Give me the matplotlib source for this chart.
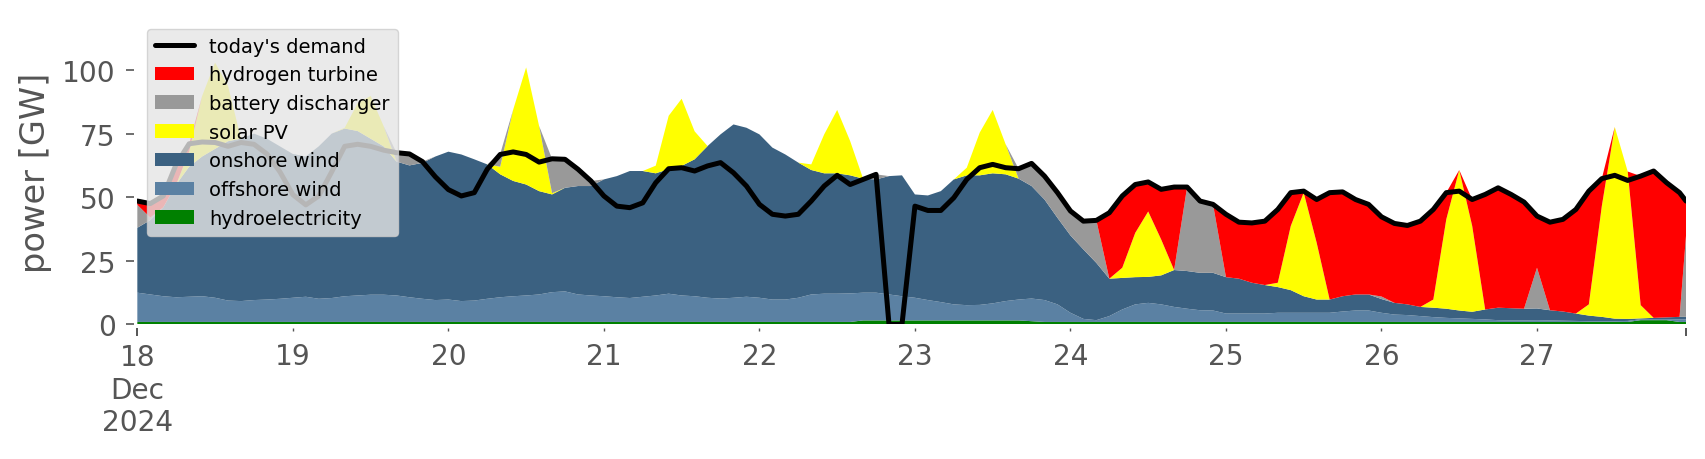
import numpy as np
import matplotlib.pyplot as plt

# -------------------------------------------------------------
#   DATA  (GW, every 2 hours from 18 Dec 00:00, last point 27 Dec 23:00)
# -------------------------------------------------------------
hours = np.r_[np.arange(0, 240, 2), 239]

day_labels = ["18\nDec\n2024", "19", "20", "21", "22", "23", "24", "25", "26", "27"]

hydro = [
    1, 1, 1, 1, 1, 1, 1, 1, 1, 1, 1, 1,                      # 18
    1, 1, 1, 1, 1, 1, 1, 1, 1, 1, 1, 1,                      # 19
    1, 1, 1, 1, 1, 1, 1, 1, 1, 1, 1, 1,                      # 20
    1, 1, 1, 1, 1, 1, 1, 1, 1, 1, 1, 1,                      # 21
    1, 1, 1, 1, 1, 1, 1, 1, 1.6, 1.6, 1.6, 1.6,              # 22
    1.6, 1.6, 1.6, 1.6, 1.6, 1.6, 1.6, 1.6, 1.6, 1.3, 1, 1,  # 23
    1, 1, 1, 1, 1, 1, 1, 1, 1, 1, 1, 1,                      # 24
    1, 1, 1, 1, 1, 1, 1, 1, 1, 1, 1, 1,                      # 25
    1, 1, 1, 1, 1, 1, 1, 1, 1, 1, 1, 1,                      # 26
    1, 1, 1, 1, 1, 1, 1, 1, 1.7, 1.7, 1.7, 1, 1,             # 27
]

offshore = [
    11.5, 10.8, 10.1, 9.7, 9.9, 10.1, 9.5, 8.4, 8.2, 8.6, 8.8, 9.1,
    9.5, 9.9, 9.1, 9.4, 10.1, 10.4, 10.7, 10.7, 10.4, 9.7, 9.1, 8.6,
    8.8, 8.2, 8.4, 9.1, 9.7, 10.1, 10.4, 10.8, 11.7, 12.0, 10.8, 10.4,
    10.1, 9.7, 9.4, 9.9, 10.4, 11.1, 10.4, 10.1, 9.5, 9.2, 9.5, 9.9,
    9.5, 8.8, 8.8, 9.5, 10.8, 11.1, 11.1, 11.2, 10.9, 10.9, 10.2, 9.5,
    8.9, 8.0, 7.2, 6.3, 6.0, 6.1, 6.7, 7.6, 8.2, 8.9, 8.6, 6.9,
    3.6, 1.2, 0.7, 2.3, 4.9, 6.9, 7.5, 6.9, 5.9, 5.2, 4.6, 4.5,
    3.3, 3.3, 3.3, 3.3, 3.6, 3.6, 3.6, 3.6, 3.6, 4.1, 4.5, 4.5,
    3.6, 2.9, 2.7, 2.3, 1.9, 1.6, 1.4, 1.2, 1.0, 0.7, 0.6, 0.6,
    0.7, 0.6, 0.5, 0.4, 0.3, 0.3, 0.3, 0.4, 0.4, 0.4, 0.4, 1.0, 1.0,
]

onshore = [
    25.5, 29.2, 34.9, 44.3, 51.1, 54.9, 58.5, 62.6, 63.8, 65.4, 63.2, 59.9,
    56.5, 55.1, 59.9, 64.6, 65.9, 64.6, 61.3, 58.3, 52.6, 51.8, 53.4, 56.4,
    58.1, 57.6, 55.5, 52.8, 48.3, 45.3, 43.6, 40.6, 38.4, 40.7, 42.6, 43.0,
    45.9, 47.6, 49.9, 49.4, 48.0, 48.9, 50.9, 53.8, 59.6, 64.5, 68.1, 66.4,
    64.2, 59.7, 57.0, 53.1, 48.9, 47.3, 47.3, 46.4, 44.8, 44.5, 46.5, 47.5,
    40.6, 41.1, 43.6, 49.1, 51.0, 50.9, 51.1, 49.8, 47.5, 44.2, 39.5, 34.0,
    30.4, 27.3, 22.5, 14.7, 12.4, 10.7, 10.2, 11.4, 14.5, 14.8, 14.7, 14.8,
    14.3, 13.7, 12.1, 11.2, 10.1, 8.9, 6.5, 5.2, 5.2, 6.0, 6.3, 6.3,
    5.4, 4.6, 4.2, 3.6, 3.7, 3.6, 3.1, 2.8, 3.9, 4.9, 4.8, 4.6,
    4.6, 4.0, 3.6, 2.9, 2.2, 1.7, 1.0, 0.8, 0.3, 0.5, 0.7, 1.0, 1.0,
]

solar = [
    0, 0, 0, 0, 6, 23.8, 33.9, 21.7, 0, 0, 0, 0,
    0, 0, 0, 0, 0.3, 10.9, 16.8, 8, 0, 0, 0, 0,
    0, 0, 0, 0, 3, 28, 46, 25.6, 0.5, 0, 0, 0,
    0, 0, 0, 0, 3, 21, 26.4, 11, 0, 0, 0, 0,
    0, 0, 0, 0, 2.2, 15.3, 24.9, 13.5, 0, 0, 0, 0,
    0, 0, 0, 0, 3, 16.8, 24.9, 11.8, 0, 0, 0, 0,
    0, 0, 0, 0, 4, 17.4, 25.7, 14.1, 0, 0, 0, 0,
    0, 0, 0, 0, 1.7, 25.2, 40.7, 22.3, 0, 0, 0, 0,
    0, 0, 0, 0, 3.2, 35.1, 55.2, 33.7, 0, 0, 0, 0,
    0, 0, 0, 0, 4.4, 43.5, 75.3, 57.9, 5.2, 0, 0, 0, 0,
]

battery = [
    9, 1, 0, 0, 0, 0, 0, 0, 0, 0, 0, 0,
    0, 0, 0, 0, 0, 0, 0, 0, 3.5, 4.5, 0.5, 0,
    0, 0, 0, 0, 5, 0, 0, 0, 13.5, 11.2, 6.6, 2,
    0, 0, 0, 0, 0, 0, 0, 0, 0, 0, 0, 0,
    0, 0, 0, 0, 0, 0, 0, 0, 0, 2, 0, 0,
    0, 0, 0, 0, 0, 0, 0, 0, 3.9, 8.9, 9.2, 9.9,
    9.6, 11.1, 16.7, 0, 0, 0, 0, 0, 0, 33, 28.2, 26.9,
    0, 0, 0, 0, 0, 0, 0, 0, 0, 0, 0, 0,
    1, 0, 0, 0, 0, 0, 0, 0, 0, 0, 0, 0,
    16, 0, 0, 0, 0, 0, 0, 0, 0, 0, 0, 0, 32,
]

hydrogen = [
    1.5, 5.5, 4.5, 7, 3, 0, 0, 0, 0, 0, 0, 0,
    0, 0, 0, 0, 0, 0, 0, 0, 0, 0, 0, 0,
    0, 0, 0, 0, 0, 0, 0, 0, 0, 0, 0, 0,
    0, 0, 0, 0, 0, 0, 0, 0, 0, 0, 0, 0,
    0, 0, 0, 0, 0, 0, 0, 0, 0, 0, 0, 0,
    0, 0, 0, 0, 0, 0, 0, 0, 0, 0, 0, 0,
    0, 0, 0, 25.9, 28.2, 19, 11.6, 19.7, 32.6, 0, 0, 0,
    24.7, 22.2, 23.5, 25.1, 28.8, 13.1, 0.6, 17, 42, 41, 37.3, 35.4,
    31.3, 31.2, 31.0, 33.7, 35.4, 10.5, 0, 10.4, 45.2, 47.1, 44.7, 41.9,
    20.3, 34.6, 36.2, 40.9, 44.5, 10.8, 0, 0, 50.7, 57.7, 52.9, 48.8, 13.5,
]

demand = [
    48.5, 47.5, 50.5, 63, 71, 71.7, 71.5, 70, 71.5, 70.8, 67, 60,
    51, 47, 50.5, 60, 70, 70.8, 70, 68.5, 67.5, 67, 64, 58,
    53, 50.5, 51.8, 61, 66.8, 67.8, 66.8, 63.8, 65.1, 64.9, 61, 56.4,
    50.5, 46.5, 45.9, 47.8, 55.7, 61.2, 61.6, 60.3, 62.3, 63.6, 59.6, 54.4,
    47.2, 43.3, 42.6, 43.3, 48.5, 54.4, 58.6, 55, 57, 59, 0, 0,
    46.5, 44.8, 44.8, 49.8, 57, 61.6, 62.9, 61.6, 61.2, 63.3, 58.3, 51.8,
    44.6, 40.6, 40.9, 43.9, 50.5, 55, 56, 53.1, 54, 54, 48.5, 47.2,
    43.3, 40.2, 39.9, 40.6, 45.2, 51.8, 52.4, 49.1, 51.8, 52.1, 49.1, 47.2,
    42.3, 39.7, 38.9, 40.6, 45.2, 51.8, 52.4, 49.1, 51.1, 53.7, 51.1, 48.1,
    42.6, 40.2, 41.3, 45.2, 52.4, 57.3, 58.6, 56.6, 58.3, 60.3, 55.7, 51.8, 48.5,
]

# bottom to top
layers = [
    ("hydroelectricity", hydro, "green"),
    ("offshore wind", offshore, "#5b81a3"),
    ("onshore wind", onshore, "#3b6181"),
    ("solar PV", solar, "yellow"),
    ("battery discharger", battery, "#999999"),
    ("hydrogen turbine", hydrogen, "red"),
]

GRAY = "#555555"

# -------------------------------------------------------------
#   PLOT
# -------------------------------------------------------------
fig = plt.figure(figsize=(17.06, 4.6), dpi=100)
ax = fig.add_axes([0.0805, 0.2924, 0.9078, 0.664])

polys = ax.stackplot(hours, *[v for _, v, _ in layers],
                     colors=[c for _, _, c in layers],
                     labels=[n for n, _, _ in layers], linewidth=0)
line, = ax.plot(hours, demand, color="black", lw=3.6, label="today's demand",
                solid_joinstyle="round", solid_capstyle="round")

ax.set_xlim(0, 239)
ax.set_ylim(0, 120)

for side in ("top", "right", "left", "bottom"):
    ax.spines[side].set_visible(False)
ax.spines["left"].set_position(("outward", 2.2))
ax.spines["bottom"].set_position(("outward", 2.2))

ax.set_xticks([0, 239])
ax.set_xticklabels([day_labels[0], ""])
ax.set_xticks([24 * k for k in range(1, 10)], minor=True)
ax.set_xticklabels(day_labels[1:], minor=True)
ax.set_yticks([0, 25, 50, 75, 100])

ax.tick_params(axis="x", which="major", length=5.5, width=1.4, pad=5.8,
               labelsize=20.2, colors=GRAY)
ax.tick_params(axis="x", which="minor", length=2.4, width=1.0, pad=8,
               labelsize=20.2, colors=GRAY)
ax.tick_params(axis="y", which="major", length=5.8, width=1.2, pad=7.5,
               labelsize=20.2, colors=GRAY)

ax.set_ylabel("power [GW]", fontsize=24.2, color=GRAY)
ax.yaxis.set_label_coords(-0.055, 0.5)

handles = [line] + polys[::-1]
labels = [line.get_label()] + [n for n, _, _ in layers][::-1]
ax.legend(handles, labels, loc="upper left", fontsize=14,
          facecolor="#e5e5e5", framealpha=0.8, edgecolor="#cccccc")

fig.savefig("out.png", dpi=100)
